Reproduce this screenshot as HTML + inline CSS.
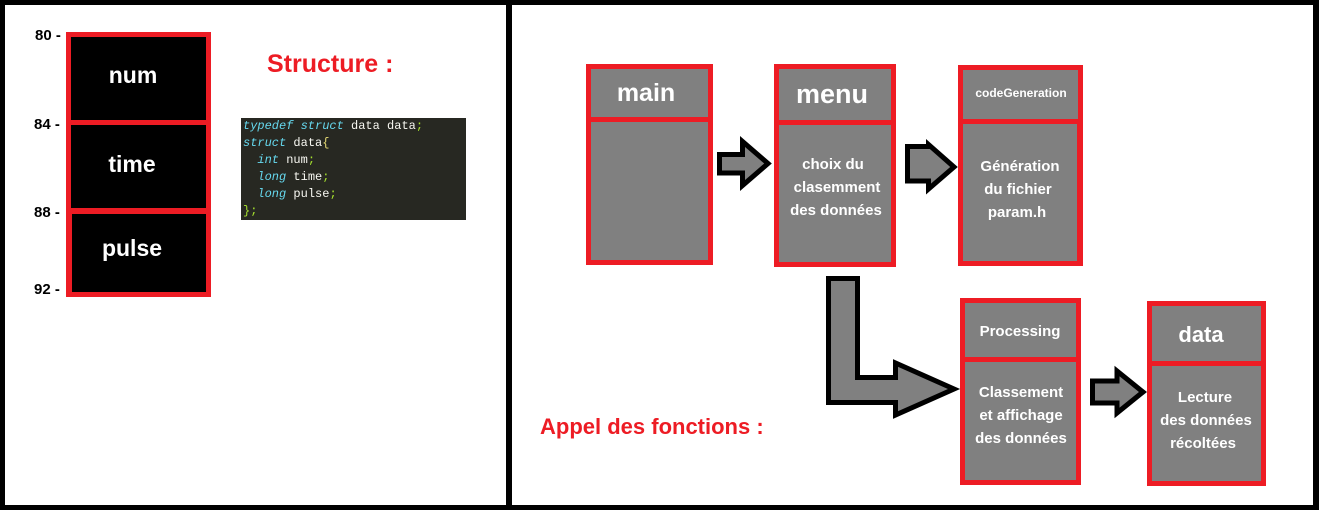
<!DOCTYPE html>
<html><head><meta charset="utf-8"><style>
html,body{margin:0;padding:0;background:#fff;}
svg{display:block}
text{font-family:"Liberation Sans",sans-serif;font-weight:bold;}
.m{font-family:"Liberation Mono",monospace;font-weight:normal;font-size:12px;}
</style></head><body>
<svg width="1319" height="510" viewBox="0 0 1319 510" xmlns="http://www.w3.org/2000/svg">
<rect x="0" y="0" width="1319" height="510" fill="#fff"/>
<rect x="0" y="0" width="1319" height="5" fill="#000"/>
<rect x="0" y="505" width="1319" height="5" fill="#000"/>
<rect x="0" y="0" width="5" height="510" fill="#000"/>
<rect x="1313" y="0" width="6" height="510" fill="#000"/>
<rect x="506" y="0" width="6" height="510" fill="#000"/>

<rect x="66" y="32" width="145" height="265" fill="#ed1c24"/>
<rect x="71" y="37" width="135" height="83" fill="#000"/>
<rect x="71" y="125" width="135" height="83" fill="#000"/>
<rect x="72" y="214" width="134" height="78" fill="#000"/>
<g fill="#fff" font-size="23" text-anchor="middle">
<text x="133" y="83">num</text>
<text x="132" y="172">time</text>
<text x="132" y="256">pulse</text>
</g>
<g fill="#000" font-size="15">
<text x="35" y="40">80 -</text>
<text x="34" y="129">84 -</text>
<text x="34" y="217">88 -</text>
<text x="34" y="294">92 -</text>
</g>
<text x="267" y="72" fill="#ed1c24" font-size="25">Structure :</text>

<rect x="241" y="118" width="225" height="102" fill="#272822"/>
<text class="m" x="243" y="129"><tspan fill="#66d9ef" font-style="italic">typedef struct</tspan><tspan fill="#f8f8f2"> data data</tspan><tspan fill="#a6e22e">;</tspan></text>
<text class="m" x="243" y="146"><tspan fill="#66d9ef" font-style="italic">struct</tspan><tspan fill="#f8f8f2"> data</tspan><tspan fill="#e6db74">{</tspan></text>
<text class="m" x="243" y="163" xml:space="preserve"><tspan fill="#66d9ef" font-style="italic">  int</tspan><tspan fill="#f8f8f2"> num</tspan><tspan fill="#a6e22e">;</tspan></text>
<text class="m" x="243" y="180" xml:space="preserve"><tspan fill="#66d9ef" font-style="italic">  long</tspan><tspan fill="#f8f8f2"> time</tspan><tspan fill="#a6e22e">;</tspan></text>
<text class="m" x="243" y="197" xml:space="preserve"><tspan fill="#66d9ef" font-style="italic">  long</tspan><tspan fill="#f8f8f2"> pulse</tspan><tspan fill="#a6e22e">;</tspan></text>
<text class="m" x="243" y="214"><tspan fill="#a6e22e">};</tspan></text>

<rect x="586" y="64" width="127" height="201" fill="#ed1c24"/>
<rect x="591" y="69" width="117" height="48" fill="#808080"/>
<rect x="591" y="122" width="117" height="138" fill="#808080"/>
<rect x="774" y="64" width="122" height="203" fill="#ed1c24"/>
<rect x="779" y="69" width="112" height="51" fill="#808080"/>
<rect x="779" y="125" width="112" height="137" fill="#808080"/>
<rect x="958" y="65" width="125" height="201" fill="#ed1c24"/>
<rect x="963" y="70" width="115" height="49" fill="#808080"/>
<rect x="963" y="124" width="114" height="137" fill="#808080"/>
<rect x="960" y="298" width="121" height="187" fill="#ed1c24"/>
<rect x="965" y="303" width="111" height="54" fill="#808080"/>
<rect x="965" y="362" width="111" height="118" fill="#808080"/>
<rect x="1147" y="301" width="119" height="185" fill="#ed1c24"/>
<rect x="1152" y="306" width="109" height="55" fill="#808080"/>
<rect x="1152" y="366" width="109" height="115" fill="#808080"/>

<g fill="#fff" text-anchor="middle">
<text x="646" y="101" font-size="25">main</text>
<text x="832" y="103" font-size="27">menu</text>
<text x="1021" y="97" font-size="12">codeGeneration</text>
<text x="1020" y="336" font-size="15">Processing</text>
<text x="1201" y="342" font-size="22">data</text>
<g font-size="15">
<text x="833" y="169">choix  du</text>
<text x="837" y="192">clasemment</text>
<text x="836" y="215">des données</text>
<text x="1020" y="171">Génération</text>
<text x="1018" y="194">du fichier</text>
<text x="1017" y="217">param.h</text>
<text x="1021" y="397">Classement</text>
<text x="1021" y="420">et affichage</text>
<text x="1021" y="443">des données</text>
<text x="1205" y="402">Lecture</text>
<text x="1206" y="425">des données</text>
<text x="1203" y="448">récoltées</text>
</g>
</g>
<text x="540" y="434" fill="#ed1c24" font-size="22">Appel des fonctions :</text>

<g fill="#808080" stroke="#000" stroke-width="5" stroke-linejoin="miter">
<polygon points="719.5,154.5 742.5,154.5 742.5,141.5 768,163.5 742.5,185.5 742.5,173 719.5,173"/>
<polygon points="907.5,146.5 928.5,146.5 928.5,144.5 954,167 928.5,189 928.5,181 907.5,181"/>
<polygon points="1092.5,381 1117,381 1117,371 1143,392 1117,413 1117,403 1092.5,403"/>
<polygon points="828.5,278.5 857.5,278.5 857.5,377.5 895.5,377.5 895.5,363 954,389 895.5,415 895.5,402.5 828.5,402.5"/>
</g>
</svg>
</body></html>
